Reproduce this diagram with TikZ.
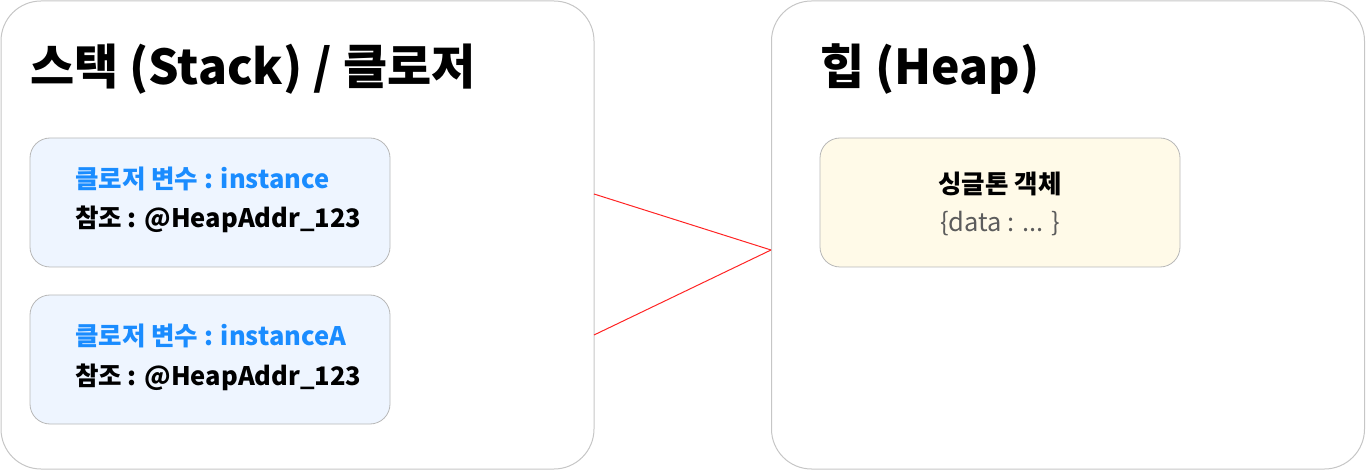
\documentclass[tikz,border=0pt]{standalone}
\usepackage{fontspec}
\setmainfont{Noto Sans CJK KR}
\usetikzlibrary{positioning,calc}

\definecolor{panelline}{HTML}{C6C6C6}
\definecolor{boxline}{HTML}{B8B8B8}
\definecolor{stackfill}{HTML}{EEF5FF}
\definecolor{heapfill}{HTML}{FFFAE8}
\definecolor{varblue}{HTML}{1A8CFF}
\definecolor{datagray}{HTML}{5C5C5C}
\definecolor{linkred}{HTML}{FF2424}

\tikzset{
  panel/.style={draw=panelline,line width=1pt,rounded corners=40pt,
    minimum width=593pt,minimum height=468pt,inner sep=0pt},
  cell/.style={draw=boxline,line width=0.8pt,rounded corners=20pt,
    minimum width=360pt,minimum height=129pt,inner sep=0pt},
  title/.style={anchor=base west,inner sep=0pt,
    font=\bfseries\fontsize{48}{58}\selectfont},
  varline/.style={anchor=base west,inner sep=0pt,text=varblue,
    font=\bfseries\fontsize{25.5}{30}\selectfont},
  refline/.style={anchor=base west,inner sep=0pt,
    font=\bfseries\fontsize{25.5}{30}\selectfont},
  link/.style={draw=linkred,line width=1pt}
}

\begin{document}
\begin{tikzpicture}[x=1pt,y=-1pt]
\useasboundingbox (0,0) rectangle (1366,470);

% Two panels
\node[panel] (stack) at (297.5,235) {};
\node[panel] (heap) at (1068,235) {};
\node[title] (stacktitle) at (30,85) {스택 (Stack) / 클로저};
\node[title] (heaptitle) at (820,85) {힙 (Heap)};

% Closure variables on the stack
\node[cell,fill=stackfill] (var1) at (210,202.5) {};
\node[varline] (var1name) at (75,189) {클로저 변수 : instance};
\node[refline] (var1ref) at (75,228) {참조 : @HeapAddr\_123};

\node[cell,fill=stackfill] (var2) at (210,359.5) {};
\node[varline] (var2name) at (75,346) {클로저 변수 : instanceA};
\node[refline] (var2ref) at (75,385) {참조 : @HeapAddr\_123};

% Singleton object on the heap
\node[cell,fill=heapfill] (single) at (1000,202.5) {};
\node[anchor=base,inner sep=0pt,font=\bfseries\fontsize{25.5}{30}\selectfont]
  (singlename) at (1000,194) {싱글톤 객체};
\node[anchor=base,inner sep=0pt,text=datagray,font=\fontsize{25.5}{30}\selectfont]
  (singledata) at (1000,232) {\{data : ... \}};

% References from the stack to the heap
\coordinate (out1) at (594,194);
\coordinate (out2) at (594,335);
\coordinate (in) at (771,250);
\draw[link] (out1) -- (in);
\draw[link] (out2) -- (in);
\end{tikzpicture}
\end{document}
